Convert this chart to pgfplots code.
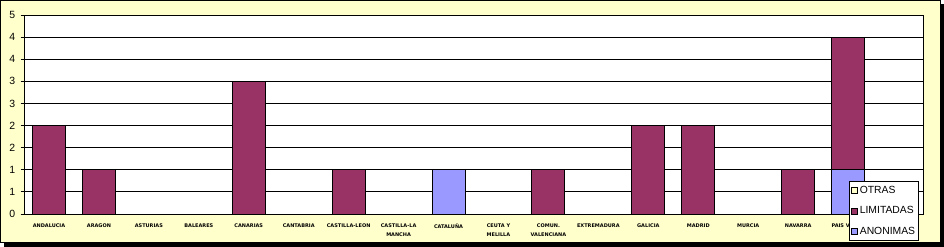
\documentclass[border=0pt]{standalone}
\usepackage{fontspec}
\setmainfont{Liberation Sans}
\newfontfamily\labfont{DejaVu Sans}
\usepackage{pgfplots}
\pgfplotsset{compat=1.18}
\definecolor{lim}{HTML}{993366}
\definecolor{ano}{HTML}{9999FF}
\definecolor{otr}{HTML}{FFFFCC}
\definecolor{bgy}{HTML}{FFFFCC}
\begin{document}
\begin{tikzpicture}
\path[use as bounding box] (-24bp,-33bp) rectangle (920bp,214bp);
\fill[black] (-20bp,-33bp) rectangle (920bp,210bp);
\draw[black, line width=1bp, fill=bgy] (-23.5bp,-28.5bp) rectangle (916bp,213.5bp);
\begin{axis}[
  at={(0,0)}, anchor=south west,
  scale only axis,
  width=899bp, height=199bp,
  axis background/.style={fill=white},
  axis line style={black, line width=0.9bp},
  xmin=-0.5, xmax=17.5,
  ymin=0, ymax=4.5,
  ybar stacked,
  bar width=33bp,
  xtick={0,...,16},
  xticklabels={ANDALUCIA,ARAGON,ASTURIAS,BALEARES,CANARIAS,CANTABRIA,CASTILLA-LEON,CASTILLA-LA\\MANCHA,CATALUÑA,CEUTA Y\\MELILLA,COMUN.\\VALENCIANA,EXTREMADURA,GALICIA,MADRID,MURCIA,NAVARRA,PAIS VASCO},
  xtick style={draw=none},
  xticklabel style={font=\labfont\fontsize{5}{9}\selectfont\bfseries, align=center, anchor=north, inner sep=0pt, yshift=-6.5bp},
  ytick={0,0.5,...,4.5},
  yticklabels={0,1,1,2,2,3,3,4,4,5},
  ytick pos=left,
  tick align=outside,
  major tick length=3.5bp,
  ytick style={black, line width=0.9bp},
  yticklabel style={font=\fontsize{10.5}{12}\selectfont, anchor=east, inner sep=0pt, xshift=-5bp},
  /pgf/number format/assume math mode=true,
  ymajorgrids,
  grid style={black, line width=0.9bp},
  axis on top=false,
  reverse legend,
  legend style={at={(0.9956,-0.1357)}, anchor=south east, draw=black, line width=0.9bp, fill=white,
    font=\fontsize{10.4}{12}\selectfont, inner xsep=1.5bp, inner ysep=3bp, row sep=7.5bp, cells={anchor=west}},
  legend image code/.code={\draw[#1, line width=0.8bp] (0bp,-3bp) rectangle (6bp,3bp);},
]
\addplot[fill=ano, draw=black, line width=0.9bp] coordinates {
(0,0) (1,0) (2,0) (3,0) (4,0) (5,0) (6,0) (7,0) (8,1) (9,0) (10,0) (11,0) (12,0) (13,0) (14,0) (15,0) (16,1) (17,0)};
\addlegendentry{ANONIMAS}
\addplot[fill=lim, draw=black, line width=0.9bp] coordinates {
(0,2) (1,1) (2,0) (3,0) (4,3) (5,0) (6,1) (7,0) (8,0) (9,0) (10,1) (11,0) (12,2) (13,2) (14,0) (15,1) (16,3) (17,0)};
\addlegendentry{LIMITADAS}
\addlegendimage{fill=otr, draw=black}
\addlegendentry{OTRAS}
\end{axis}
\end{tikzpicture}
\end{document}
